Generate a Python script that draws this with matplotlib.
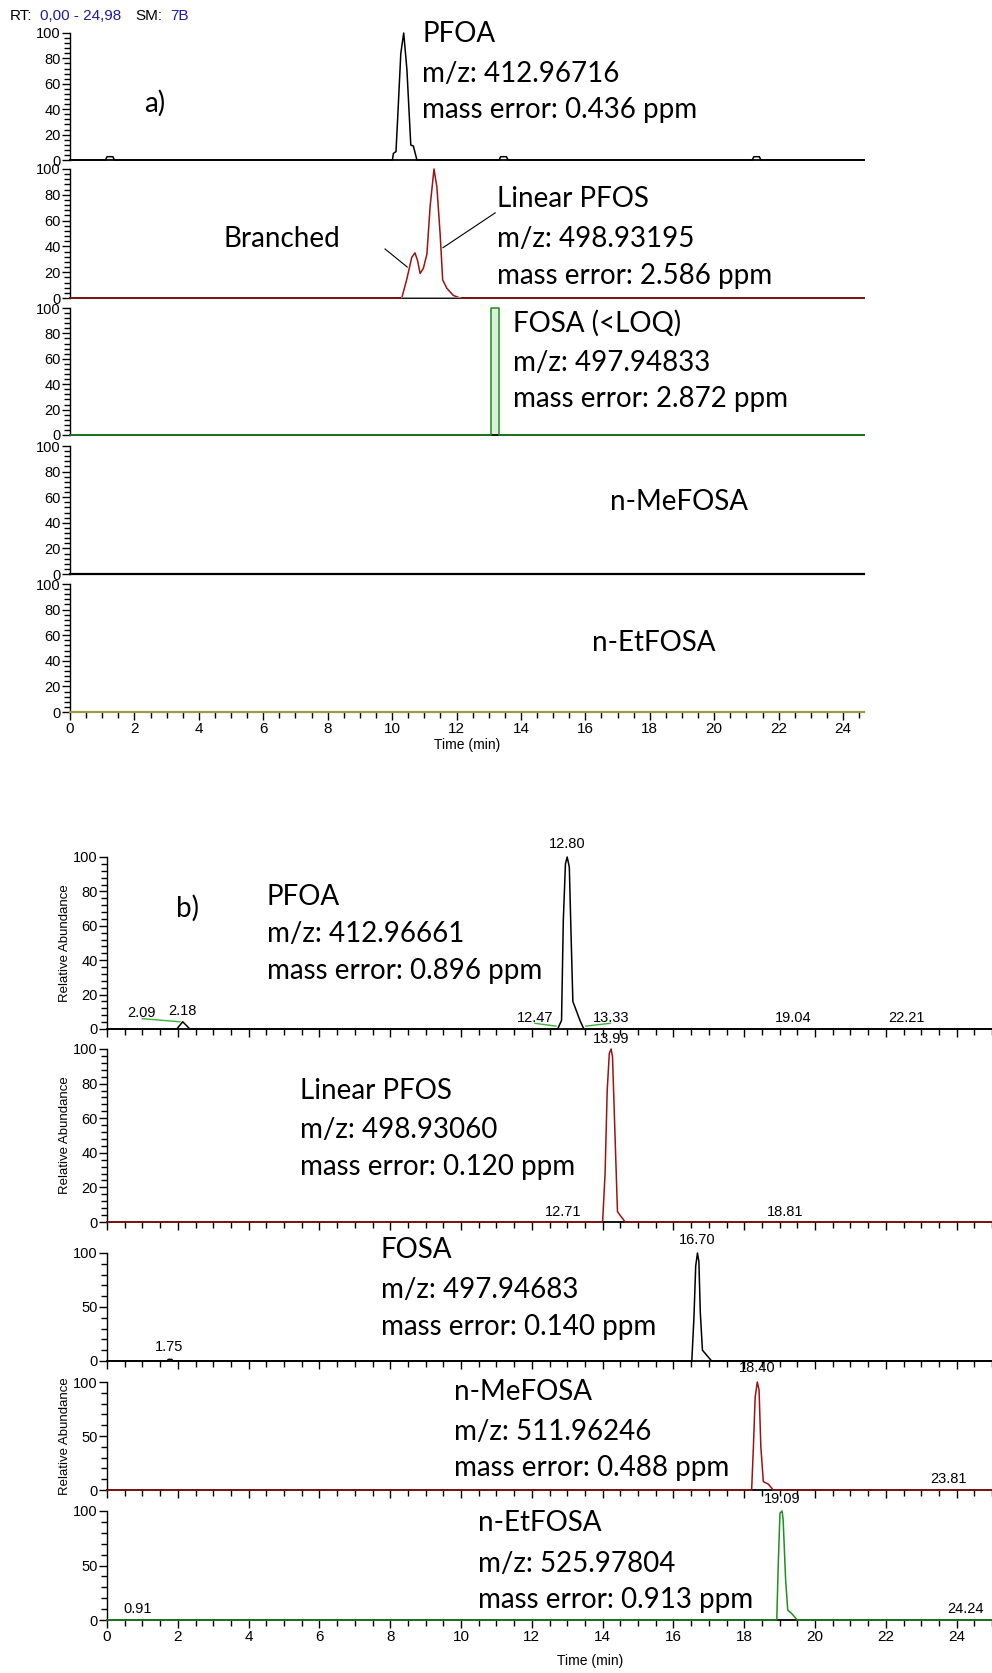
import matplotlib
matplotlib.use("Agg")
import matplotlib.pyplot as plt
from matplotlib.ticker import MultipleLocator, NullFormatter

plt.rcParams['font.family'] = ['Liberation Sans', 'DejaVu Sans']

# ---------------- data (panel a) ----------------
a1_t = [0, 1.10, 1.15, 1.33, 1.38, 10.01, 10.04, 10.12, 10.17, 10.27, 10.36, 10.46,
        10.54, 10.58, 10.66, 10.77, 13.32, 13.37, 13.55, 13.60, 21.18, 21.23, 21.40, 21.45, 24.65]
a1_y = [0, 0, 2.6, 2.6, 0, 0, 5.2, 6.6, 31.5, 84, 100, 71, 31.5, 11.8, 11, 0, 0, 2.6, 2.6, 0,
        0, 2.6, 2.6, 0, 0]

a2_t = [0, 10.30, 10.45, 10.61, 10.71, 10.79, 10.87, 10.97, 11.08, 11.18, 11.30, 11.39,
        11.49, 11.57, 11.70, 11.90, 12.11, 24.65]
a2_y = [0, 0, 14, 31.5, 35, 29, 19, 23, 34, 71, 100, 86, 50, 14, 7.5, 2, 0, 0]

a3_t = [0, 13.07, 13.07, 13.32, 13.32, 24.65]
a3_y = [0, 0, 100, 100, 0, 0]

a4_t = [0, 24.65]
a4_y = [0, 0]
a5_t = [0, 24.65]
a5_y = [0, 0]

# ---------------- data (panel b) ----------------
b1_t = [0, 1.97, 2.14, 2.34, 12.73, 12.84, 12.89, 12.95, 13.00, 13.06, 13.11, 13.16,
        13.27, 13.36, 13.47, 25]
b1_y = [0, 0, 4.2, 0, 0, 5, 63, 96, 100, 94, 54, 16, 10, 5, 0, 0]

b2_t = [0, 14.00, 14.07, 14.13, 14.19, 14.24, 14.28, 14.34, 14.42, 14.49, 14.64, 25]
b2_y = [0, 0, 28, 76, 97.5, 100, 95.5, 57, 6, 4, 0, 0]

b3_t = [0, 1.70, 1.73, 1.83, 1.86, 16.52, 16.58, 16.63, 16.68, 16.72, 16.76, 16.82,
        16.95, 17.08, 25]
b3_y = [0, 0, 1.5, 1.5, 0, 0, 40, 88, 100, 92, 45, 10, 5, 0, 0]

b4_t = [0, 18.21, 18.26, 18.31, 18.37, 18.42, 18.47, 18.54, 18.68, 18.82, 25]
b4_y = [0, 0, 40, 86, 100, 92.6, 40, 7.7, 5.5, 0, 0]

b5_t = [0, 18.92, 18.96, 19.01, 19.07, 19.10, 19.17, 19.23, 19.34, 19.50, 25]
b5_y = [0, 0, 49, 98, 100, 92, 37, 9, 6, 0, 0]

b1_green_t = [[1.0, 2.06], [12.09, 12.68], [13.53, 14.21]]
b1_green_y = [[6, 4.2], [3.3, 1.7], [1.7, 3.3]]

b1_labels = [(0.98, 9.5, "2.09"), (2.14, 10.5, "2.18"), (13.0, 107.6, "12.80"),
             (12.09, 6.2, "12.47"), (14.23, 6.2, "13.33"), (19.39, 6.2, "19.04"),
             (22.59, 6.2, "22.21")]
b2_labels = [(14.23, 105.6, "13.99"), (12.89, 6, "12.71"), (19.15, 6, "18.81")]
b3_labels = [(1.75, 13, "1.75"), (16.68, 112.5, "16.70")]
b4_labels = [(18.37, 112.5, "18.40"), (23.77, 10, "23.81")]
b5_labels = [(19.06, 111, "19.09"), (24.24, 9.8, "24.24"), (0.86, 9.8, "0.91")]

a_texts = [
    ["PFOA", "m/z: 412.96716", "mass error: 0.436 ppm"],
    ["Linear PFOS", "m/z: 498.93195", "mass error: 2.586 ppm"],
    ["FOSA (<LOQ)", "m/z: 497.94833", "mass error: 2.872 ppm"],
    ["n-MeFOSA"],
    ["n-EtFOSA"],
]
b_texts = [
    ["PFOA", "m/z: 412.96661", "mass error: 0.896 ppm"],
    ["Linear PFOS", "m/z: 498.93060", "mass error: 0.120 ppm"],
    ["FOSA", "m/z: 497.94683", "mass error: 0.140 ppm"],
    ["n-MeFOSA", "m/z: 511.96246", "mass error: 0.488 ppm"],
    ["n-EtFOSA", "m/z: 525.97804", "mass error: 0.913 ppm"],
]

BLACK = "#000000"
RED = "#9b1414"
GREEN = "#1f8f1f"
OLIVE = "#9a9a48"
BLUE = "#1c1c9c"

W, H = 992, 1673
fig = plt.figure(figsize=(W / 100, H / 100), dpi=100)

BIG = dict(family=['Lato', 'DejaVu Sans'], fontsize=20, color='black')
TICKFS = 10.5


def make_ax(left, right, top, bottom):
    return fig.add_axes([left / W, 1 - bottom / H, (right - left) / W, (bottom - top) / H])


def style(ax, xmax, ymajor, yminor, xticks, xlabels):
    ax.set_xlim(0, xmax)
    ax.set_ylim(0, 100)
    for s in ('top', 'right'):
        ax.spines[s].set_visible(False)
    ax.spines['left'].set_linewidth(1.0)
    ax.spines['bottom'].set_linewidth(1.3)
    ax.yaxis.set_major_locator(MultipleLocator(ymajor))
    ax.yaxis.set_minor_locator(MultipleLocator(yminor))
    ax.tick_params(axis='y', which='major', direction='out', length=5.5, width=1.0,
                   labelsize=TICKFS, pad=1)
    ax.tick_params(axis='y', which='minor', direction='out', length=4, width=1.0)
    if xticks:
        ax.xaxis.set_major_locator(MultipleLocator(2))
        ax.xaxis.set_minor_locator(MultipleLocator(0.5))
        ax.tick_params(axis='x', which='major', direction='out', length=5.5, width=1.0,
                       labelsize=TICKFS + 0.5, pad=2)
        ax.tick_params(axis='x', which='minor', direction='out', length=4, width=1.0)
        if not xlabels:
            ax.xaxis.set_major_formatter(NullFormatter())
    else:
        ax.set_xticks([])
    ax.set_facecolor('none')


# ---------------- panel a ----------------
a_rows = [(33, 160), (169, 298), (308, 435), (446, 574), (584, 712)]
a_data = [(a1_t, a1_y, BLACK), (a2_t, a2_y, RED), (a3_t, a3_y, GREEN),
          (a4_t, a4_y, BLACK), (a5_t, a5_y, OLIVE)]
a_text_pos = [(10.93, [99, 68, 39]), (13.26, [77, 46, 17]), (13.76, [88, 57, 28]),
              (16.77, [56]), (16.2, [54])]
a_axes = []
for i, ((top, bot), (t, y, c)) in enumerate(zip(a_rows, a_data)):
    ax = make_ax(70, 864, top, bot)
    style(ax, 24.65, 20, 4, xticks=(i == 4), xlabels=(i == 4))
    ax.plot(t, y, color=c, lw=1.1 if i < 3 else 1.6, clip_on=False, zorder=3)
    if i == 2:
        ax.fill_between(t, y, color='#b9e2b9', alpha=0.5, lw=0)
    x0, ys = a_text_pos[i]
    for txt, yy in zip(a_texts[i], ys):
        ax.text(x0, yy, txt, ha='left', va='center', clip_on=False, **BIG)
    a_axes.append(ax)

a_axes[0].text(2.64, 45, "a)", ha='center', va='center', **BIG)
a_axes[1].text(4.75, 46, "Branched", ha='left', va='center', **BIG)
a_axes[1].plot([9.78, 10.47], [38, 24], color='black', lw=0.8)
a_axes[1].plot([13.2, 11.58], [66, 39], color='black', lw=0.8)
a_axes[1].plot([10.30, 12.11], [0, 0], color='#9a9a9a', lw=1.3, zorder=3.5)
a_axes[4].set_xlabel("Time (min)", fontsize=10, labelpad=1)

fig.text(10 / W, 1 - 16 / H, "RT:", color='black', fontsize=11, va='center')
fig.text(40 / W, 1 - 16 / H, "0,00 - 24,98", color=BLUE, fontsize=11, va='center')
fig.text(135 / W, 1 - 16 / H, "SM:", color='black', fontsize=11, va='center')
fig.text(170 / W, 1 - 16 / H, "7B", color=BLUE, fontsize=11, va='center')

# ---------------- panel b ----------------
b_rows = [(857, 1029), (1049, 1222), (1253, 1361), (1382, 1490), (1511, 1620)]
b_data = [(b1_t, b1_y, BLACK), (b2_t, b2_y, RED), (b3_t, b3_y, BLACK),
          (b4_t, b4_y, RED), (b5_t, b5_y, GREEN)]
b_major = [(20, 4), (20, 4), (50, 10), (50, 10), (50, 10)]
b_text_pos = [(4.51, [77, 55, 34]), (5.44, [76, 53, 32]), (7.74, [103, 66, 31.5]),
              (9.81, [91, 54, 20.6]), (10.48, [89, 51.6, 18.3])]
b_label_sets = [b1_labels, b2_labels, b3_labels, b4_labels, b5_labels]
b_axes = []
for i, ((top, bot), (t, y, c)) in enumerate(zip(b_rows, b_data)):
    ax = make_ax(107, 992, top, bot)
    style(ax, 25.0, b_major[i][0], b_major[i][1], xticks=True, xlabels=(i == 4))
    ax.plot(t, y, color=c, lw=1.1, clip_on=False, zorder=3)
    x0, ys = b_text_pos[i]
    for txt, yy in zip(b_texts[i], ys):
        ax.text(x0, yy, txt, ha='left', va='center', clip_on=False, **BIG)
    for (lx, ly, lt) in b_label_sets[i]:
        ax.text(lx, ly, lt, ha='center', va='center', fontsize=10.5, clip_on=False)
    if i in (0, 1, 3):
        ax.set_ylabel("Relative Abundance", fontsize=9.5, labelpad=2)
    b_axes.append(ax)

for gt, gy in zip(b1_green_t, b1_green_y):
    b_axes[0].plot(gt, gy, color='#3cb03c', lw=1.0, zorder=3)

b_axes[0].text(2.28, 70, "b)", ha='center', va='center', **BIG)
b_axes[4].text(13.64, -38, "Time (min)", ha='center', va='center', fontsize=10,
               clip_on=False)

fig.savefig("out.png", dpi=100)
